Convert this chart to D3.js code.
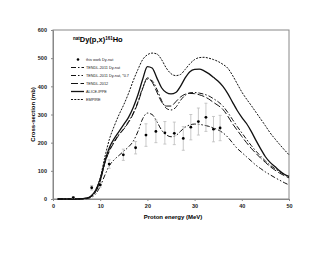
<!DOCTYPE html>
<html>
<head>
<meta charset="utf-8">
<script src="https://cdn.jsdelivr.net/npm/d3@7"></script>
<style>
  body { margin: 0; background: #fff; }
  text { font-family: "Liberation Sans", Arial, sans-serif; }
</style>
</head>
<body>
<svg id="main-svg" width="330" height="255"></svg>
<script>
// Data
var expE   = [4.3, 8.2, 10.0, 11.9, 14.9, 17.5, 19.7, 21.8, 23.7, 25.7, 27.6, 29.2, 30.8, 32.4, 34.0, 35.4];
var expXS  = [5, 40, 50, 124, 157, 182, 227, 240, 235, 233, 215, 255, 275, 290, 248, 252];
var expErr = [3, 8, 8, 15, 20, 22, 40, 40, 40, 40, 42, 45, 48, 50, 45, 45];

var modelE = [1, 5, 7, 8, 9, 10, 11, 12, 13, 14, 15, 16, 17, 18, 19, 20, 21, 22, 23, 24, 25,
  26, 27, 28, 29, 30, 31, 32, 33, 34, 35, 36, 37, 38, 39, 40, 41, 42, 43, 44, 45, 46, 47, 48, 49, 50];

var tendl2011 = [0, 0, 2, 8, 25, 65, 130, 175, 205, 230, 250, 275, 305, 345, 395, 425, 420, 390, 350, 322, 316,
  325, 350, 368, 377, 378, 376, 372, 366, 356, 345, 330, 308, 283, 258, 235, 212, 190, 170, 152, 135, 120, 108, 97, 87, 78];
var tendl2011x07 = [0, 0, 1, 5, 17, 45, 85, 120, 140, 155, 170, 185, 205, 240, 285, 305, 300, 275, 245, 228, 221,
  225, 240, 255, 263, 266, 265, 262, 258, 252, 245, 235, 220, 200, 180, 165, 150, 135, 120, 108, 96, 86, 76, 67, 58, 50];
var tendl2012 = [0, 0, 2, 8, 25, 62, 128, 172, 202, 228, 248, 272, 302, 342, 392, 430, 415, 380, 345, 330, 330,
  345, 362, 372, 375, 374, 370, 364, 355, 343, 332, 318, 295, 268, 245, 222, 200, 180, 162, 145, 130, 115, 103, 92, 83, 75];
var alice = [0, 0, 3, 10, 30, 70, 135, 185, 215, 240, 265, 290, 325, 370, 425, 470, 465, 430, 395, 378, 373,
  378, 400, 430, 452, 460, 461, 455, 445, 432, 418, 400, 375, 345, 315, 290, 268, 240, 208, 178, 150, 130, 115, 100, 88, 80];
var empire = [0, 0, 3, 10, 30, 75, 150, 215, 260, 300, 335, 375, 420, 460, 495, 512, 518, 515, 495, 465, 445,
  438, 442, 460, 480, 495, 502, 503, 500, 495, 488, 478, 465, 440, 410, 380, 355, 332, 308, 284, 260, 235, 214, 194, 175, 157];

var xTicks = [0, 10, 20, 30, 40, 50];
var yTicks = [0, 100, 200, 300, 400, 500, 600];

var series = [
  { name: "TENDL-2011 Dy-nat", values: tendl2011, dash: "5,2,1.5,2", width: 1 },
  { name: "TENDL-2011 Dy-nat, *0.7", values: tendl2011x07, dash: "5,2,1.5,2,1.5,2", width: 1 },
  { name: "TENDL-2012", values: tendl2012, dash: "7,2.5", width: 1 },
  { name: "ALICE-IPPE", values: alice, dash: null, width: 1.3 },
  { name: "EMPIRE", values: empire, dash: "2,1.3", width: 1 }
];

var margin = { left: 53, top: 30, right: 41, bottom: 56 };
var W = 330, H = 255;

var svg = d3.select('#main-svg');

var x = d3.scaleLinear().domain([0, 50]).range([margin.left, W - margin.right]);
var y = d3.scaleLinear().domain([0, 600]).range([H - margin.bottom, margin.top]);

// frame
svg.append('rect')
  .attr('x', x(0)).attr('y', y(600))
  .attr('width', x(50) - x(0)).attr('height', y(0) - y(600))
  .attr('fill', 'none').attr('stroke', '#888').attr('stroke-width', 1);

// axes
var xAxis = svg.append('g')
  .attr('transform', `translate(0,${y(0)})`)
  .call(d3.axisBottom(x).tickValues(xTicks).tickSize(2).tickPadding(3));
var yAxis = svg.append('g')
  .attr('transform', `translate(${x(0)},0)`)
  .call(d3.axisLeft(y).tickValues(yTicks).tickSize(2).tickPadding(4));

[xAxis, yAxis].forEach(function (a) {
  a.select('.domain').attr('stroke', '#888');
  a.selectAll('.tick line').attr('stroke', '#888');
  a.selectAll('.tick text')
    .style('font-family', '"Liberation Sans", Arial, sans-serif')
    .style('font-size', '5.5px')
    .style('font-weight', 'bold')
    .attr('fill', '#222');
});

// axis titles
svg.append('text')
  .attr('x', (x(0) + x(50)) / 2 + 2).attr('y', 219)
  .attr('text-anchor', 'middle')
  .style('font-size', '6px').style('font-weight', 'bold')
  .text('Proton energy (MeV)');

svg.append('text')
  .attr('transform', `translate(35,${(y(0) + y(600)) / 2}) rotate(-90)`)
  .attr('text-anchor', 'middle')
  .style('font-size', '6px').style('font-weight', 'bold')
  .text('Cross-section (mb)');

// title
var title = svg.append('text')
  .attr('x', 73).attr('y', 42)
  .style('font-size', '7.5px').style('font-weight', 'bold');
title.append('tspan').attr('dy', -2.5).style('font-size', '4.5px').text('nat');
title.append('tspan').attr('dy', 2.5).text('Dy(p,x)');
title.append('tspan').attr('dy', -2.5).style('font-size', '4.5px').text('161');
title.append('tspan').attr('dy', 2.5).text('Ho');

// model curves
var line = d3.line()
  .x(function (d) { return x(d[0]); })
  .y(function (d) { return y(d[1]); })
  .curve(d3.curveMonotoneX);

svg.append('g').selectAll('path').data(series).enter().append('path')
  .attr('d', function (s) { return line(modelE.map(function (e, i) { return [e, s.values[i]]; })); })
  .attr('fill', 'none')
  .attr('stroke', '#111')
  .attr('stroke-width', function (s) { return s.width; })
  .attr('stroke-dasharray', function (s) { return s.dash; });

// experimental points with error bars
var exp = expE.map(function (e, i) { return { e: e, v: expXS[i], err: expErr[i] }; });
var pts = svg.append('g').selectAll('g').data(exp).enter().append('g');
pts.append('line')
  .attr('x1', function (d) { return x(d.e); }).attr('x2', function (d) { return x(d.e); })
  .attr('y1', function (d) { return y(d.v - d.err); }).attr('y2', function (d) { return y(d.v + d.err); })
  .attr('stroke', '#bbb').attr('stroke-width', 0.8);
['-', '+'].forEach(function (sgn) {
  pts.append('line')
    .attr('x1', function (d) { return x(d.e) - 1.5; }).attr('x2', function (d) { return x(d.e) + 1.5; })
    .attr('y1', function (d) { return y(sgn === '+' ? d.v + d.err : d.v - d.err); })
    .attr('y2', function (d) { return y(sgn === '+' ? d.v + d.err : d.v - d.err); })
    .attr('stroke', '#bbb').attr('stroke-width', 0.8);
});
pts.append('circle')
  .attr('cx', function (d) { return x(d.e); }).attr('cy', function (d) { return y(d.v); })
  .attr('r', 1.4).attr('fill', '#000');

// legend
var legend = svg.append('g').attr('transform', 'translate(70,59.5)');
var legItems = [{ name: 'this work Dy-nat', point: true }].concat(series);
var li = legend.selectAll('g').data(legItems).enter().append('g')
  .attr('transform', function (d, i) { return `translate(0,${i * 8})`; });
li.each(function (d) {
  var g = d3.select(this);
  if (d.point) {
    g.append('circle').attr('cx', 8).attr('cy', 0).attr('r', 1.3).attr('fill', '#000');
  } else {
    g.append('line').attr('x1', 1).attr('x2', 14).attr('y1', 0).attr('y2', 0)
      .attr('stroke', '#111').attr('stroke-width', d.width)
      .attr('stroke-dasharray', d.dash);
  }
  g.append('text').attr('x', 16).attr('y', 1.4)
    .style('font-size', '3.8px').attr('fill', '#222')
    .text(d.name);
});
</script>
</body>
</html>
